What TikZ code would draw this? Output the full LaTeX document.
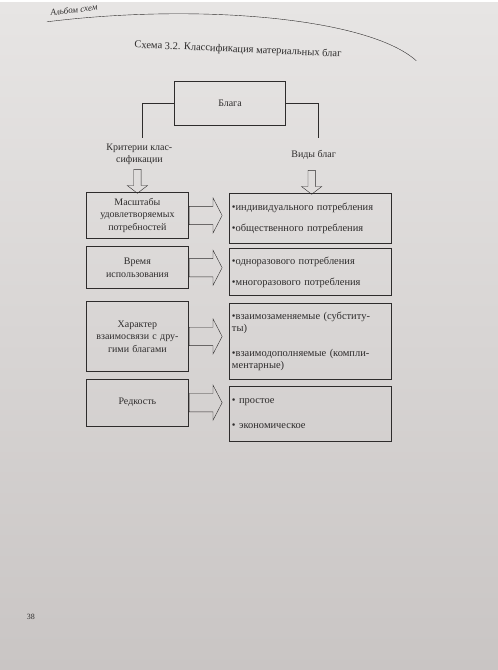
\documentclass[tikz,border=0pt]{standalone}
\usepackage{fontspec}
\setmainfont{Liberation Serif}
\usepackage{xcolor}
\usetikzlibrary{positioning,shapes.arrows}
\definecolor{ink}{HTML}{2E2C2C}
\definecolor{papertop}{HTML}{E7E5E4}
\definecolor{paperbot}{HTML}{C9C5C4}

\begin{document}
\begin{tikzpicture}[x=1pt,y=-1pt,every node/.style={font=\fontsize{10}{12.5}\selectfont,text=ink},
      crit/.style={draw=ink,thick,text width=97pt,inner xsep=3pt,align=center},
      kind/.style={draw=ink,thick,text width=157pt,inner xsep=3pt,align=left,font=\fontsize{10.5}{12.5}\selectfont},
      hollowright/.style={single arrow,draw=ink,inner xsep=0pt,inner ysep=9pt,minimum height=33pt,single arrow head extend=8.5pt,single arrow tip angle=125,anchor=tail},
      hollowdown/.style={single arrow,draw=ink,inner sep=3.5pt,minimum height=24pt,single arrow head extend=6.5pt,single arrow tip angle=105,shape border rotate=270,anchor=tail}]
      \shade[top color=papertop,bottom color=paperbot] (0,0) rectangle (500,670);
      \node[font=\itshape\fontsize{9}{11}\selectfont,rotate=7,anchor=south west] (album) at (48,17) {Альбом схем};
      \draw[ink] (47,19) .. controls (200,0) and (370,15) .. (418,58);
      \node[font=\fontsize{10.5}{13}\selectfont,rotate=-2.5] (title) at (239,47) {Схема 3.2. Классификация материальных благ};
      \node[draw=ink,thick,minimum width=112pt,minimum height=44pt] (goods) at (231,101) {Блага};
      \node[align=center] (critlabel) at (140,152) {Критерии клас-\\сификации};
      \node (kindlabel) at (315,153) {Виды благ};
      \coordinate (critend) at (143,136); \coordinate (kindend) at (320,136);
      \draw[ink] (goods.west) -| (critend); \draw[ink] (goods.east) -| (kindend);
      \node[hollowdown] (critdown) at (138,167) {};
      \node[hollowdown] (kinddown) at (313,168) {};
      \node[crit,minimum height=47pt] (crit1) at (138,213.5) {Масштабы\\удовлетворяемых\\потребностей};
      \node[crit,minimum height=42pt] (crit2) at (138,266) {Время\\использования};
      \node[crit,minimum height=70pt] (crit3) at (138,335) {Характер\\взаимосвязи с дру-\\гими благами};
      \node[crit,minimum height=47pt] (crit4) at (138,401.5) {Редкость};
      \node[kind,minimum height=51pt] (kind1) at (311.5,216.5) {•индивидуального потребления\\[9pt]•общественного потребления};
      \node[kind,minimum height=47pt] (kind2) at (311.5,270.5) {•одноразового потребления\\[9pt]•многоразового потребления};
      \node[kind,minimum height=76pt] (kind3) at (311.5,340) {•взаимозаменяемые (субститу-\\ты)\\[12pt]•взаимодополняемые (компли-\\ментарные)};
      \node[kind,minimum height=55pt] (kind4) at (311.5,412.5) {• простое\\[12pt]• экономическое};
      \node[hollowright] (arrow1) at (crit1.east) {};
      \node[hollowright] (arrow2) at (crit2.east) {};
      \node[hollowright] (arrow3) at (crit3.east) {};
      \node[hollowright] (arrow4) at (crit4.east) {};
      \node[font=\fontsize{8}{10}\selectfont] (pagenum) at (31,617) {38};
    \end{tikzpicture}
\end{document}
